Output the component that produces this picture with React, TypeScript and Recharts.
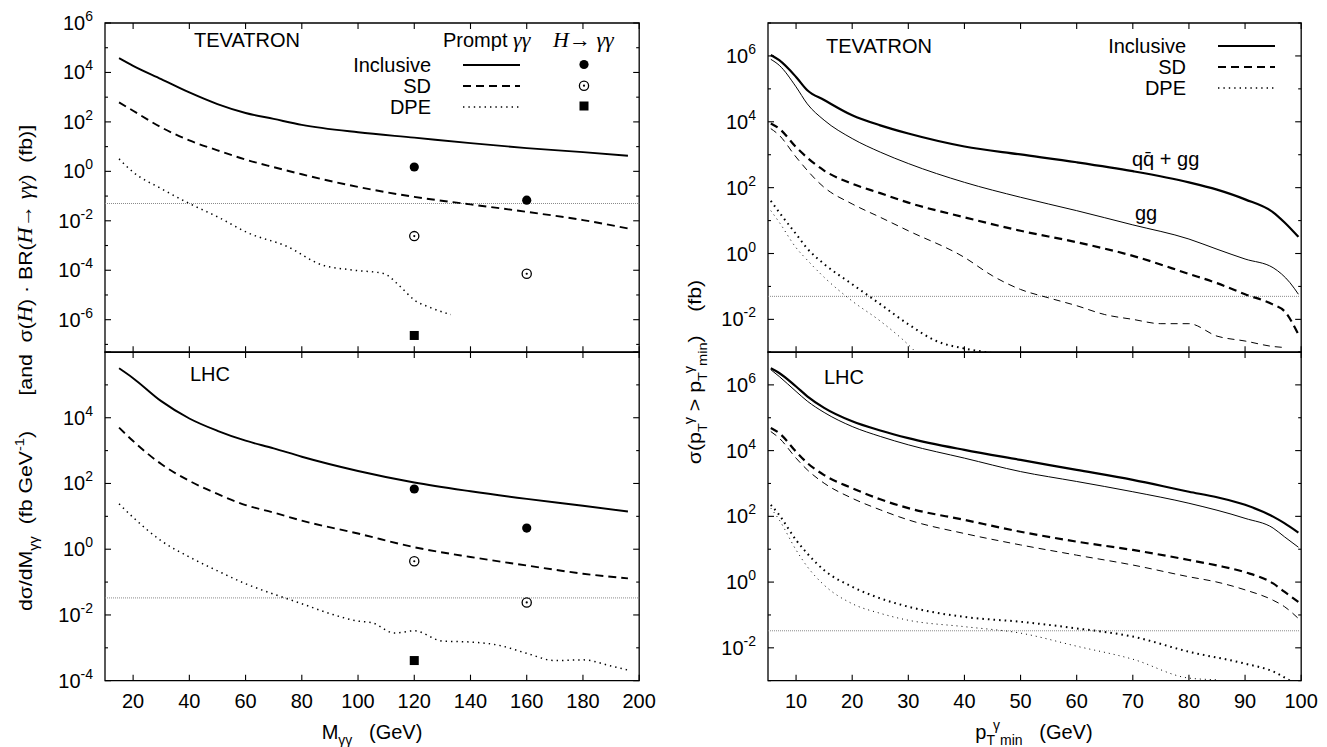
import React from "react";
import { LineChart, Line, XAxis, YAxis, ReferenceLine, ReferenceArea } from "recharts";

// Tevatron, d sigma / dM (top left)
const tevMX = [15, 20, 30, 40, 50, 60, 70, 80, 100, 120, 140, 160, 180, 196];
const tevMIncl = [3.8e4, 1.86e4, 5.4e3, 1.55e3, 525, 229, 132, 76, 38, 23, 13.8, 8.7, 6.0, 4.3];
const tevMSd = [617, 282, 60, 17.8, 7.1, 3.0, 1.48, 0.76, 0.234, 0.093, 0.046, 0.023, 0.0107, 0.0049];
const tevMDpeX = [15, 20, 30, 40, 50, 61, 75, 87, 97, 109, 115, 120, 126, 133];
const tevMDpe = [3.2, 0.93, 0.2, 0.05, 0.0145, 0.0032, 8.9e-4, 1.66e-4, 1.05e-4, 7.4e-5, 2.2e-5, 6.3e-6, 3.0e-6, 1.6e-6];
const higgsM = [120, 160];
const tevHIncl = [1.5, 0.068];
const tevHSd = [0.0024, 7.2e-5];
const tevHDpe = [2.3e-7];

// LHC, d sigma / dM (bottom left)
const lhcMX = [15, 20, 30, 40, 50, 60, 70, 80, 100, 120, 140, 160, 180, 196];
const lhcMIncl = [3.2e5, 1.6e5, 3.2e4, 9.5e3, 4.0e3, 2.0e3, 1.17e3, 650, 240, 107, 58, 34, 21, 14];
const lhcMSd = [5.0e3, 1.95e3, 390, 120, 48, 22, 13, 7.4, 3.0, 1.15, 0.58, 0.32, 0.18, 0.13];
const lhcMDpeX = [15, 20, 30, 40, 50, 60, 70, 80, 90, 100, 105, 113, 120, 130, 140, 150, 160, 170, 180, 190, 196];
const lhcMDpe = [24, 9.3, 1.8, 0.58, 0.22, 0.089, 0.043, 0.022, 0.011, 0.0065, 0.0058, 0.0028, 0.0033, 0.0016, 0.0015, 0.0012, 6.8e-4, 4.1e-4, 4.3e-4, 2.8e-4, 2.1e-4];
const lhcHIncl = [68, 4.4];
const lhcHSd = [0.43, 0.024];
const lhcHDpe = [4.1e-4];

// Tevatron, sigma(pT > pTmin) (top right)
const tevPX = [5.5, 7, 10, 12, 15, 20, 25, 30, 40, 50, 60, 70, 80, 85, 90, 95, 97, 99.5];
const tevPIncl = [1.07e6, 7.4e5, 2.3e5, 9.1e4, 4.6e4, 1.58e4, 7.8e3, 4.4e3, 1.78e3, 1.02e3, 590, 316, 145, 87, 44, 17.8, 8.9, 3.2];
const tevPGgX = [5.5, 7, 10, 12, 15, 20, 25, 30, 40, 50, 60, 70, 80, 85, 90, 95, 98, 99.5];
const tevPGg = [7.9e5, 5.2e5, 1.15e5, 3.5e4, 1.12e4, 3.1e3, 1.2e3, 540, 145, 51, 20, 7.4, 2.75, 1.35, 0.68, 0.37, 0.13, 0.058];
const tevPSdX = [5.5, 7, 10, 15, 20, 25, 30, 40, 50, 60, 70, 80, 85, 90, 95, 97, 99.5];
const tevPSd = [8.9e3, 6.2e3, 1.7e3, 330, 132, 68, 35, 12.6, 4.9, 2.2, 0.85, 0.24, 0.126, 0.058, 0.028, 0.0178, 0.0035];
const tevPSdGgX = [5.5, 7, 10, 15, 20, 25, 30, 40, 45, 50, 55, 60, 65, 70, 75, 80, 85, 90, 95, 97];
const tevPSdGg = [6.2e3, 3.9e3, 850, 102, 32, 12.6, 4.9, 0.76, 0.21, 0.081, 0.045, 0.026, 0.014, 0.01, 0.0074, 0.0074, 0.0031, 0.0022, 0.0015, 0.0014];
const tevPDpeX = [5.5, 7, 10, 12, 15, 20, 25, 30, 35, 40, 44, 46];
const tevPDpe = [40, 17.8, 3.9, 1.41, 0.48, 0.117, 0.029, 0.0071, 0.0022, 0.0013, 0.001, 0.00089];
const tevPDpeGgX = [5.5, 7, 10, 12, 15, 20, 25, 30, 31.5];
const tevPDpeGg = [20, 8.9, 1.5, 0.63, 0.19, 0.036, 0.0089, 0.0017, 0.00095];

// LHC, sigma(pT > pTmin) (bottom right)
const lhcPX = [5.5, 7, 10, 12, 15, 20, 25, 30, 40, 50, 60, 70, 80, 85, 90, 95, 97, 99.5];
const lhcPIncl = [3.2e6, 2.3e6, 8.9e5, 4.5e5, 2.0e5, 7.8e4, 4.1e4, 2.4e4, 1.05e4, 5.2e3, 2.6e3, 1.29e3, 560, 380, 224, 98, 62, 32];
const lhcPGgX = [5.5, 7, 10, 12, 15, 20, 25, 30, 40, 50, 60, 70, 80, 90, 95, 97, 99.5];
const lhcPGg = [2.9e6, 1.8e6, 6.3e5, 3.2e5, 1.45e5, 5.4e4, 2.7e4, 1.5e4, 5.9e3, 2.3e3, 1.15e3, 560, 250, 87, 44, 24, 11.5];
const lhcPSd = [4.9e4, 3.4e4, 9.3e3, 4.2e3, 1.8e3, 720, 330, 178, 78, 34, 17, 9.5, 4.7, 3.2, 2.0, 0.91, 0.51, 0.25];
const lhcPSdGg = [3.8e4, 2.4e4, 5.9e3, 2.6e3, 1.02e3, 355, 158, 78, 30, 13.5, 6.6, 3.3, 1.45, 1.0, 0.58, 0.28, 0.18, 0.078];
const lhcPDpeX = [5.5, 7, 10, 12, 15, 20, 25, 30, 40, 50, 60, 70, 80, 90, 95, 98];
const lhcPDpe = [224, 110, 19, 7.4, 2.3, 0.72, 0.32, 0.178, 0.087, 0.062, 0.039, 0.022, 0.0076, 0.0033, 0.0019, 0.001];
const lhcPDpeGgX = [5.5, 7, 10, 12, 15, 20, 25, 30, 40, 50, 60, 70, 80, 85];
const lhcPDpeGg = [178, 78, 9.5, 2.95, 0.81, 0.22, 0.112, 0.069, 0.044, 0.028, 0.0112, 0.0045, 0.0012, 0.00107];

// axes
const massTicks = [20, 40, 60, 80, 100, 120, 140, 160, 180, 200];
const ptTicks = [10, 20, 30, 40, 50, 60, 70, 80, 90, 100];
const decTevM = [1e-7, 1e-6, 1e-5, 1e-4, 1e-3, 1e-2, 1e-1, 1, 10, 100, 1e3, 1e4, 1e5, 1e6];
const decLhcM = [1e-4, 1e-3, 1e-2, 1e-1, 1, 10, 100, 1e3, 1e4, 1e5, 1e6];
const decPt = [1e-3, 1e-2, 1e-1, 1, 10, 100, 1e3, 1e4, 1e5, 1e6, 1e7];

const FONT = "'Liberation Sans', Arial, Helvetica, sans-serif";
const SERIF = "'Liberation Serif', 'Times New Roman', serif";

const pts = (xs: number[], ys: number[]) => xs.map((x, i) => ({ x, y: ys[i] }));

type Curve = { xs: number[]; ys: number[]; w: number; dash?: string };
type Mark = { xs: number[]; ys: number[]; kind: "dot" | "ring" | "square" };

function markShape(kind: string) {
  return (p: any) => {
    const { cx, cy, index } = p;
    if (cx == null || cy == null) return <g key={index} />;
    if (kind === "dot") return <circle key={index} cx={cx} cy={cy} r={4.6} fill="#000" />;
    if (kind === "ring")
      return (
        <g key={index}>
          <circle cx={cx} cy={cy} r={4.6} fill="none" stroke="#000" strokeWidth={1.3} />
          <circle cx={cx} cy={cy} r={1.1} fill="#000" />
        </g>
      );
    return <rect key={index} x={cx - 4.5} y={cy - 4.5} width={9} height={9} fill="#000" />;
  };
}

function YTick(props: any) {
  const { x, y, payload, plotW, skip } = props;
  const e = Math.round(Math.log10(payload.value));
  const major = e % 2 === 0;
  const len = major ? 6 : 3;
  return (
    <g>
      <line x1={x} x2={x + len} y1={y} y2={y} stroke="#000" strokeWidth={1.1} />
      <line x1={x + plotW - len} x2={x + plotW} y1={y} y2={y} stroke="#000" strokeWidth={1.1} />
      {major && !skip.includes(e) && (
        <text x={x - 12} y={y + 7} textAnchor="end" fontSize={20} fontFamily={FONT} fill="#000">
          10
          <tspan dy={-9} fontSize={14}>{String(e)}</tspan>
        </text>
      )}
    </g>
  );
}

function XTick(props: any) {
  const { x, y, payload, plotH, showLabel } = props;
  return (
    <g>
      <line x1={x} x2={x} y1={y} y2={y - 6} stroke="#000" strokeWidth={1.1} />
      <line x1={x} x2={x} y1={y - plotH} y2={y - plotH + 6} stroke="#000" strokeWidth={1.1} />
      {showLabel && (
        <text x={x} y={y + 27} textAnchor="middle" fontSize={20} fontFamily={FONT} fill="#000">
          {payload.value}
        </text>
      )}
    </g>
  );
}

function Panel(props: {
  plotLeft: number;
  plotTop: number;
  plotW: number;
  plotH: number;
  xDomain: [number, number];
  xTicks: number[];
  yDomain: [number, number];
  yTicks: number[];
  skip: number[];
  showX: boolean;
  cut: number;
  curves: Curve[];
  marks?: Mark[];
}) {
  const { plotLeft, plotTop, plotW, plotH, xDomain, xTicks, yDomain, yTicks, skip, showX, cut, curves, marks = [] } = props;
  const ml = 80;
  const mt = 22;
  return (
    <div style={{ position: "absolute", left: plotLeft - ml, top: plotTop - mt }}>
      <LineChart width={plotW + ml + 20} height={plotH + mt + 50} margin={{ top: mt, right: 20, bottom: 10, left: 10 }}>
        <XAxis
          type="number"
          dataKey="x"
          domain={xDomain}
          ticks={xTicks}
          interval={0}
          allowDataOverflow
          axisLine={false}
          tickSize={0}
          tickMargin={0}
          height={40}
          tick={(p: any) => <XTick {...p} plotH={plotH} showLabel={showX} />}
        />
        <YAxis
          type="number"
          scale="log"
          domain={yDomain}
          ticks={yTicks}
          interval={0}
          allowDataOverflow
          axisLine={false}
          tickSize={0}
          tickMargin={0}
          width={70}
          tick={(p: any) => <YTick {...p} plotW={plotW} skip={skip} />}
        />
        <ReferenceLine y={cut} stroke="#8a8a8a" strokeWidth={1} strokeDasharray="1 1" ifOverflow="visible" />
        {curves.map((c, i) => (
          <Line
            key={"c" + i}
            data={pts(c.xs, c.ys)}
            dataKey="y"
            type="monotone"
            stroke="#000"
            strokeWidth={c.w}
            strokeDasharray={c.dash}
            dot={false}
            activeDot={false}
            isAnimationActive={false}
          />
        ))}
        {marks.map((m, i) => (
          <Line
            key={"m" + i}
            data={pts(m.xs, m.ys)}
            dataKey="y"
            stroke="none"
            dot={markShape(m.kind)}
            activeDot={false}
            isAnimationActive={false}
          />
        ))}
        <ReferenceArea
          x1={xDomain[0]}
          x2={xDomain[1]}
          y1={yDomain[0]}
          y2={yDomain[1]}
          fill="none"
          fillOpacity={0}
          stroke="#000"
          strokeWidth={1.3}
          ifOverflow="visible"
        />
      </LineChart>
    </div>
  );
}

const SOLID = undefined;
const DASH = "8 5";
const DOT = "1.4 4";

export default function App() {
  const L1 = 104.8, W1 = 534.2;
  const L2 = 767.5, W2 = 533.2;
  const T1 = 22.7, H1 = 329.3;
  const T2 = 352, H2 = 328.7;
  const txt = { fontFamily: FONT, fontSize: 20, fill: "#000" } as const;
  return (
    <div style={{ position: "absolute", left: 0, top: 0, width: 1327, height: 747, background: "#fff", overflow: "hidden" }}>
      <Panel
        plotLeft={L1} plotTop={T1} plotW={W1} plotH={H1}
        xDomain={[10, 200]} xTicks={massTicks}
        yDomain={[4.8e-8, 1e6]} yTicks={decTevM} skip={[]} showX={false} cut={0.05}
        curves={[
          { xs: tevMX, ys: tevMIncl, w: 1.9, dash: SOLID },
          { xs: tevMX, ys: tevMSd, w: 1.9, dash: DASH },
          { xs: tevMDpeX, ys: tevMDpe, w: 1.5, dash: DOT },
        ]}
        marks={[
          { xs: higgsM, ys: tevHIncl, kind: "dot" },
          { xs: higgsM, ys: tevHSd, kind: "ring" },
          { xs: [120], ys: tevHDpe, kind: "square" },
        ]}
      />
      <Panel
        plotLeft={L1} plotTop={T2} plotW={W1} plotH={H2}
        xDomain={[10, 200]} xTicks={massTicks}
        yDomain={[1e-4, 1e6]} yTicks={decLhcM} skip={[6]} showX={true} cut={0.033}
        curves={[
          { xs: lhcMX, ys: lhcMIncl, w: 1.9, dash: SOLID },
          { xs: lhcMX, ys: lhcMSd, w: 1.9, dash: DASH },
          { xs: lhcMDpeX, ys: lhcMDpe, w: 1.5, dash: DOT },
        ]}
        marks={[
          { xs: higgsM, ys: lhcHIncl, kind: "dot" },
          { xs: higgsM, ys: lhcHSd, kind: "ring" },
          { xs: [120], ys: lhcHDpe, kind: "square" },
        ]}
      />
      <Panel
        plotLeft={L2} plotTop={T1} plotW={W2} plotH={H1}
        xDomain={[5, 100]} xTicks={ptTicks}
        yDomain={[1e-3, 1e7]} yTicks={decPt} skip={[]} showX={false} cut={0.05}
        curves={[
          { xs: tevPX, ys: tevPIncl, w: 2.2, dash: SOLID },
          { xs: tevPGgX, ys: tevPGg, w: 1, dash: SOLID },
          { xs: tevPSdX, ys: tevPSd, w: 2.2, dash: DASH },
          { xs: tevPSdGgX, ys: tevPSdGg, w: 1, dash: "7 5" },
          { xs: tevPDpeX, ys: tevPDpe, w: 2, dash: "1.6 4" },
          { xs: tevPDpeGgX, ys: tevPDpeGg, w: 1, dash: "1 4" },
        ]}
      />
      <Panel
        plotLeft={L2} plotTop={T2} plotW={W2} plotH={H2}
        xDomain={[5, 100]} xTicks={ptTicks}
        yDomain={[1e-3, 1e7]} yTicks={decPt} skip={[]} showX={true} cut={0.033}
        curves={[
          { xs: lhcPX, ys: lhcPIncl, w: 2.2, dash: SOLID },
          { xs: lhcPGgX, ys: lhcPGg, w: 1, dash: SOLID },
          { xs: lhcPX, ys: lhcPSd, w: 2.2, dash: DASH },
          { xs: lhcPX, ys: lhcPSdGg, w: 1, dash: "7 5" },
          { xs: lhcPDpeX, ys: lhcPDpe, w: 2, dash: "1.6 4" },
          { xs: lhcPDpeGgX, ys: lhcPDpeGg, w: 1, dash: "1 4" },
        ]}
      />

      <svg width={1327} height={747} style={{ position: "absolute", left: 0, top: 0, pointerEvents: "none" }}>
        {/* left panels: annotations */}
        <text x={194} y={47} {...txt}>TEVATRON</text>
        <text x={443} y={47} {...txt}>
          Prompt <tspan fontFamily={SERIF} fontStyle="italic" fontSize={22}>γγ</tspan>
        </text>
        <text x={553} y={47} {...txt} fontFamily={SERIF} fontSize={22}>
          <tspan fontStyle="italic">H</tspan>→ <tspan fontStyle="italic">γγ</tspan>
        </text>
        <text x={431} y={72} {...txt} textAnchor="end">Inclusive</text>
        <text x={431} y={93} {...txt} textAnchor="end">SD</text>
        <text x={431} y={114} {...txt} textAnchor="end">DPE</text>
        <line x1={463} x2={520} y1={65} y2={65} stroke="#000" strokeWidth={1.9} />
        <line x1={463} x2={520} y1={86} y2={86} stroke="#000" strokeWidth={1.9} strokeDasharray={DASH} />
        <line x1={463} x2={520} y1={107} y2={107} stroke="#000" strokeWidth={1.5} strokeDasharray={DOT} />
        <circle cx={584} cy={64.5} r={4.6} fill="#000" />
        <circle cx={584} cy={85.7} r={4.6} fill="none" stroke="#000" strokeWidth={1.3} />
        <circle cx={584} cy={85.7} r={1.1} fill="#000" />
        <rect x={579.5} y={101.5} width={9} height={9} fill="#000" />
        <text x={190} y={381} {...txt}>LHC</text>

        {/* right panels: annotations */}
        <text x={826} y={53} {...txt}>TEVATRON</text>
        <text x={1186} y={53} {...txt} textAnchor="end">Inclusive</text>
        <text x={1186} y={74} {...txt} textAnchor="end">SD</text>
        <text x={1186} y={95} {...txt} textAnchor="end">DPE</text>
        <line x1={1218} x2={1275} y1={46} y2={46} stroke="#000" strokeWidth={2.2} />
        <line x1={1218} x2={1275} y1={67} y2={67} stroke="#000" strokeWidth={2.2} strokeDasharray={DASH} />
        <line x1={1218} x2={1275} y1={88} y2={88} stroke="#000" strokeWidth={1.4} strokeDasharray={DOT} />
        <text x={1132} y={166} {...txt}>qq̄ + gg</text>
        <text x={1135} y={220} {...txt}>gg</text>
        <text x={824} y={384} {...txt}>LHC</text>

        {/* axis titles */}
        <text x={372} y={739} {...txt} textAnchor="middle" style={{ whiteSpace: "pre" }}>
          M<tspan dy={6} fontSize={14}>γγ</tspan>
          <tspan dy={-6}>{"   (GeV)"}</tspan>
        </text>
        <text x={1034} y={739} {...txt} textAnchor="middle" style={{ whiteSpace: "pre" }}>
          p<tspan dy={6} fontSize={14}>T</tspan>
          <tspan dy={-15} dx={-2} fontSize={14}>γ</tspan>
          <tspan dy={15} fontSize={14}>min</tspan>
          <tspan dy={-6}>{"   (GeV)"}</tspan>
        </text>
        <text transform="translate(32,368) rotate(-90) scale(1.12,1)" {...txt} fontSize={19} textAnchor="middle" style={{ whiteSpace: "pre" }}>
          dσ/dM<tspan dy={6} fontSize={13}>γγ</tspan>
          <tspan dy={-6}>{"  (fb GeV"}</tspan>
          <tspan dy={-8} fontSize={13}>-1</tspan>
          <tspan dy={8}>{")      [and  σ("}</tspan>
          <tspan fontFamily={SERIF} fontStyle="italic" fontSize={20}>H</tspan>
          <tspan>{") · BR("}</tspan>
          <tspan fontFamily={SERIF} fontStyle="italic" fontSize={20}>H</tspan>
          <tspan fontFamily={SERIF} fontSize={20}>{"→ "}</tspan>
          <tspan fontFamily={SERIF} fontStyle="italic" fontSize={20}>γγ</tspan>
          <tspan>{")  (fb)]"}</tspan>
        </text>
        <text transform="translate(701,372) rotate(-90) scale(1.12,1)" {...txt} fontSize={19} textAnchor="middle" style={{ whiteSpace: "pre" }}>
          σ(p<tspan dy={6} fontSize={13}>T</tspan>
          <tspan dy={-14} dx={-1} fontSize={13}>γ</tspan>
          <tspan dy={8}>{" > p"}</tspan>
          <tspan dy={6} fontSize={13}>T</tspan>
          <tspan dy={-14} dx={-1} fontSize={13}>γ</tspan>
          <tspan dy={14} fontSize={13}>min</tspan>
          <tspan dy={-6}>{")    (fb)"}</tspan>
        </text>
      </svg>
    </div>
  );
}
